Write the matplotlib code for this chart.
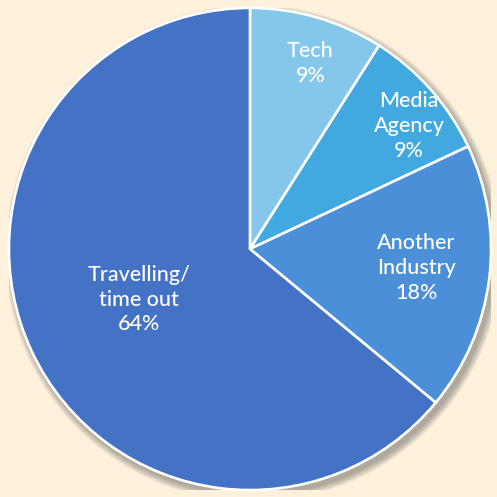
import matplotlib
matplotlib.use("Agg")
import matplotlib.pyplot as plt
from matplotlib.patches import Circle

categories = ["Tech", "Media\nAgency", "Another\nIndustry", "Travelling/\ntime out"]
shares = [9, 9, 18, 64]
colors = ["#85C7EA", "#41A9DF", "#4A8FD8", "#4472C4"]
# where each label sits inside its slice (pie radius = 1)
label_xy = [(0.25, 0.77), (0.66, 0.51), (0.69, -0.08), (-0.46, -0.21)]

BG = "#FDF1DC"

fig = plt.figure(figsize=(4.97, 4.97), dpi=100, facecolor=BG)
ax = fig.add_axes([0.018, 0.014, 0.970, 0.970])
ax.set_facecolor(BG)

# soft drop shadow under the pie
for i in range(14):
    r = 1.0 + 0.0022 * (14 - i)
    ax.add_patch(Circle((0.014, -0.018), r, color="#555555", alpha=0.04,
                        lw=0, zorder=0))

wedges, _ = ax.pie(shares, colors=colors, startangle=90, counterclock=False,
                   radius=1.0,
                   wedgeprops=dict(edgecolor="white", linewidth=1.9))
for w in wedges:
    w.set_zorder(2)

for name, val, (x, y) in zip(categories, shares, label_xy):
    ax.text(x, y, f"{name}\n{val}%",
            ha="center", va="center", color="white", fontsize=15.5,
            family="Lato", fontweight="medium", linespacing=1.3, zorder=3)

ax.set_xlim(-1, 1)
ax.set_ylim(-1, 1)
ax.set_aspect("equal")
ax.axis("off")

fig.savefig("out.png", dpi=100, facecolor=BG)
